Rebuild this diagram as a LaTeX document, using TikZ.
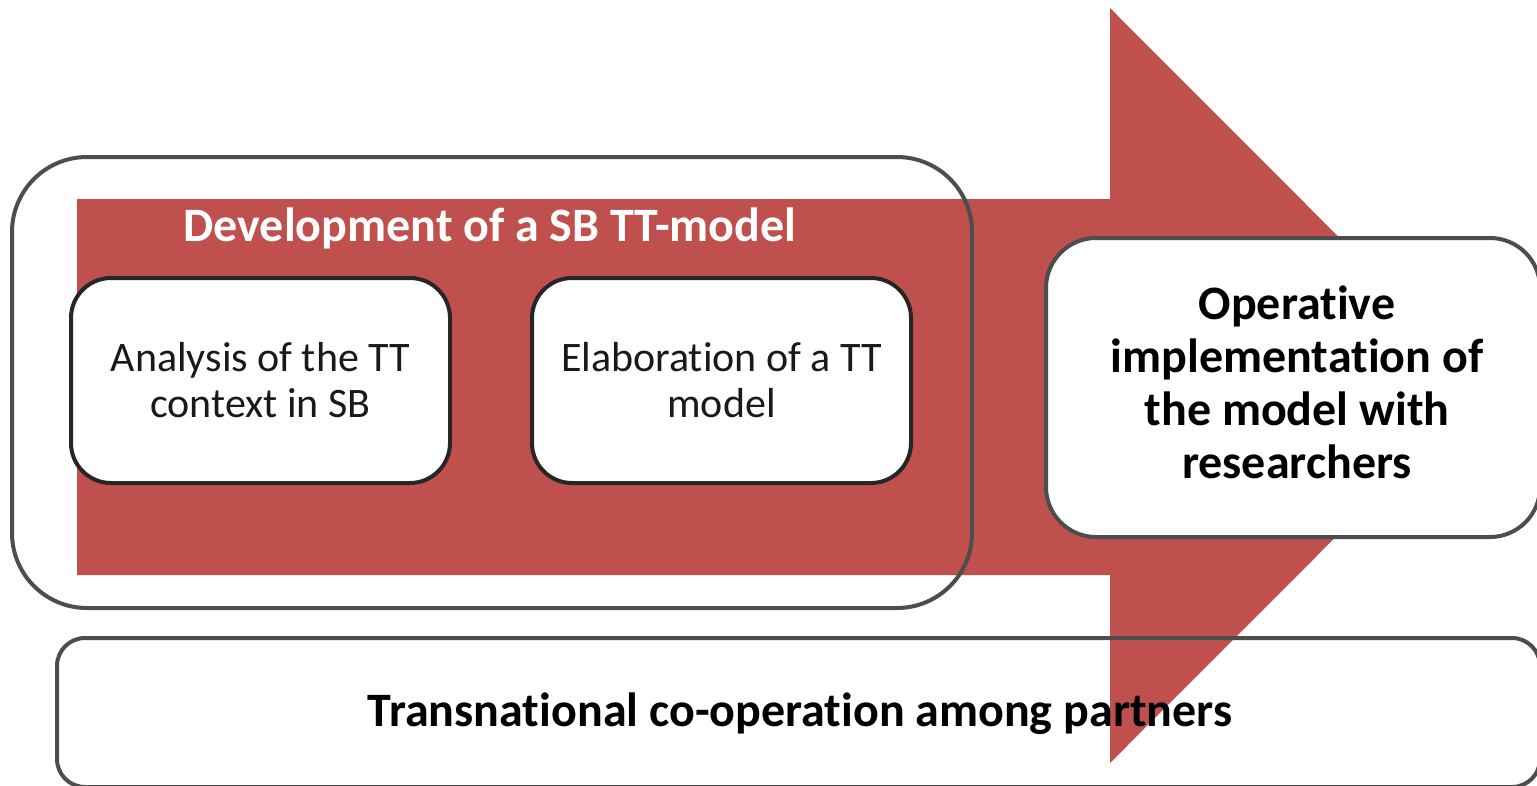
\documentclass[tikz,border=0pt]{standalone}
\usepackage{fontspec}
\setmainfont[Ligatures={NoCommon}]{Carlito}
\definecolor{arrowred}{HTML}{C0504D}
\definecolor{edgegray}{HTML}{4D4D4D}
\definecolor{edgedark}{HTML}{262626}
\begin{document}
\begin{tikzpicture}[x=1pt,y=-1pt,
  framebox/.style={draw=edgegray,line width=4pt,rectangle,inner sep=0pt},
  stagebox/.style={draw=edgedark,line width=4pt,fill=white,rectangle,rounded corners=40pt,inner sep=0pt,
     minimum width=379pt,minimum height=205pt,align=center,font=\fontsize{42}{46}\selectfont,text=black!90},
  boldtext/.style={font=\bfseries\fontsize{48}{53}\selectfont,align=center}]
\useasboundingbox (0,0) rectangle (1537,785);
% big arrow
\fill[arrowred] (77,199) -- (1110,199) -- (1110,8) -- (1487,385.5) -- (1110,763) -- (1110,575) -- (77,575) -- cycle;
% outer grouping box
\node[framebox,rounded corners=75pt,minimum width=960pt,minimum height=451pt] (group) at (492,382.5) {};
\node[font=\bfseries\fontsize{48}{53}\selectfont,text=white] (title) at (490,228) {Development of a SB TT-model};
\node[stagebox] (analysis) at (260.5,380.5) {Analysis of the TT\\context in SB};
\node[stagebox] (elab) at (721.5,380.5) {Elaboration of a TT\\model};
\node[framebox,fill=white,rounded corners=50pt,minimum width=494pt,minimum height=299pt] (oper) at (1293,387.5) {};
\node[boldtext] (opertext) at (1297,382) {Operative\\implementation of\\the model with\\researchers};
\node[framebox,rounded corners=28pt,minimum width=1483pt,minimum height=149pt] (coop) at (798.5,712.5) {};
\node[boldtext] (cooptext) at (800,714) {Transnational co-operation among partners};
\end{tikzpicture}
\end{document}
